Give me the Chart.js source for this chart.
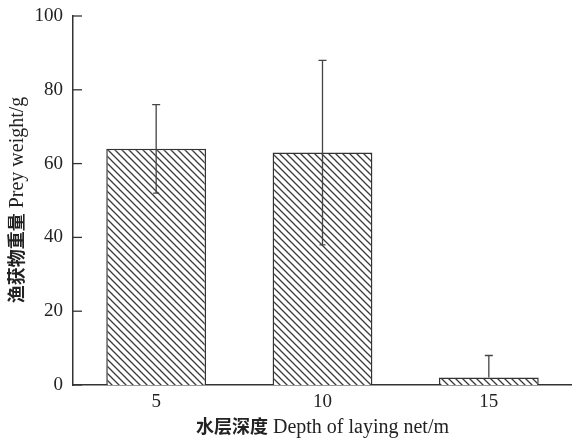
<!DOCTYPE html>
<html>
<head>
<meta charset="utf-8">
<script src="https://cdn.jsdelivr.net/npm/chart.js@4"></script>
<style>
html,body{margin:0;padding:0;background:#fff;}
#wrap{width:572px;height:441px;}
</style>
</head>
<body>
<div id="wrap"><canvas id="c" width="572" height="441"></canvas></div>
<script>
const categories = ['5', '10', '15'];
const preyWeight = [64, 63, 2];
const errUpper = [76, 88, 8];
const errLower = [52, 38, 2];
const yTicks = [0, 20, 40, 60, 80, 100];
const xTitleCJK = '水层深度';
const xTitleLatin = 'Depth of laying net/m';
const yTitleCJK = '渔获物重量';
const yTitleLatin = 'Prey weight/g';

const SERIF = "'Liberation Serif', 'Times New Roman', serif";
const CJK = "'Noto Sans CJK SC', sans-serif";
const INK = '#333';
const TXT = '#222';

function hatch() {
  const s = 7;
  const c = document.createElement('canvas');
  c.width = s; c.height = s;
  const g = c.getContext('2d');
  g.fillStyle = '#fff';
  g.fillRect(0, 0, s, s);
  g.strokeStyle = '#3a3a3a';
  g.lineWidth = 1.3;
  g.beginPath();
  g.moveTo(-1, -1); g.lineTo(s + 1, s + 1);
  g.moveTo(-1, s - 1); g.lineTo(1, s + 1);
  g.moveTo(s - 1, -1); g.lineTo(s + 1, 1);
  g.stroke();
  return g.createPattern(c, 'repeat');
}

function drawMixed(ctx, cjk, latin, cx, cy, rot) {
  ctx.save();
  ctx.translate(cx, cy);
  if (rot) ctx.rotate(rot);
  ctx.fillStyle = TXT;
  ctx.textBaseline = 'alphabetic';
  const fC = 'bold 18px ' + CJK;
  const fL = '20px ' + SERIF;
  ctx.font = fC; const wC = ctx.measureText(cjk).width;
  ctx.font = fL; const wL = ctx.measureText(' ' + latin).width;
  const x0 = -(wC + wL) / 2;
  const base = 7;
  ctx.font = fC; ctx.textAlign = 'left'; ctx.fillText(cjk, x0, base);
  ctx.font = fL; ctx.fillText(' ' + latin, x0 + wC, base);
  ctx.restore();
}

const extras = {
  id: 'extras',
  afterDatasetsDraw(chart) {
    const ctx = chart.ctx;
    const xs = chart.scales.x, ys = chart.scales.y;
    ctx.save();
    ctx.strokeStyle = '#444';
    ctx.lineWidth = 1.3;
    for (let i = 0; i < categories.length; i++) {
      const x = xs.getPixelForValue(i);
      const yt = ys.getPixelForValue(errUpper[i]);
      const yb = ys.getPixelForValue(errLower[i]);
      ctx.beginPath();
      ctx.moveTo(x, yt); ctx.lineTo(x, yb);
      ctx.moveTo(x - 4, yt); ctx.lineTo(x + 4, yt);
      if (errLower[i] < preyWeight[i]) { ctx.moveTo(x - 3, yb); ctx.lineTo(x + 3, yb); }
      ctx.stroke();
    }
    ctx.strokeStyle = INK;
    ctx.lineWidth = 1.3;
    const left = chart.chartArea.left;
    yTicks.forEach(v => {
      const y = ys.getPixelForValue(v);
      ctx.beginPath();
      ctx.moveTo(left, y); ctx.lineTo(left + 9, y);
      ctx.stroke();
    });
    ctx.restore();
    const ca = chart.chartArea;
    drawMixed(ctx, xTitleCJK, xTitleLatin, (ca.left + ca.right) / 2, 426, 0);
    drawMixed(ctx, yTitleCJK, yTitleLatin, 16, 200, -Math.PI / 2);
  }
};

new Chart(document.getElementById('c'), {
  type: 'bar',
  data: {
    labels: categories,
    datasets: [{
      data: preyWeight,
      backgroundColor: hatch(),
      borderColor: INK,
      borderWidth: 1.5,
      barPercentage: 0.6,
      categoryPercentage: 1.0
    }]
  },
  options: {
    responsive: false,
    animation: false,
    devicePixelRatio: 1,
    layout: { padding: 0 },
    plugins: { legend: { display: false }, tooltip: { enabled: false } },
    scales: {
      x: {
        grid: { display: false, drawTicks: false },
        border: { display: true, color: INK, width: 1.5 },
        ticks: { color: TXT, font: { family: SERIF, size: 19 }, padding: 6 },
        afterFit(s) { s.height = 56; s.paddingLeft = 0; s.paddingRight = 0; }
      },
      y: {
        min: 0, max: 100,
        afterBuildTicks(s) { s.ticks = yTicks.map(v => ({ value: v })); },
        grid: { display: false, drawTicks: false },
        border: { display: true, color: INK, width: 1.5 },
        ticks: { color: TXT, font: { family: SERIF, size: 19 }, padding: 10 },
        afterFit(s) { s.width = 73; s.paddingTop = 16; s.paddingBottom = 0; }
      }
    }
  },
  plugins: [extras]
});
</script>
</body>
</html>
